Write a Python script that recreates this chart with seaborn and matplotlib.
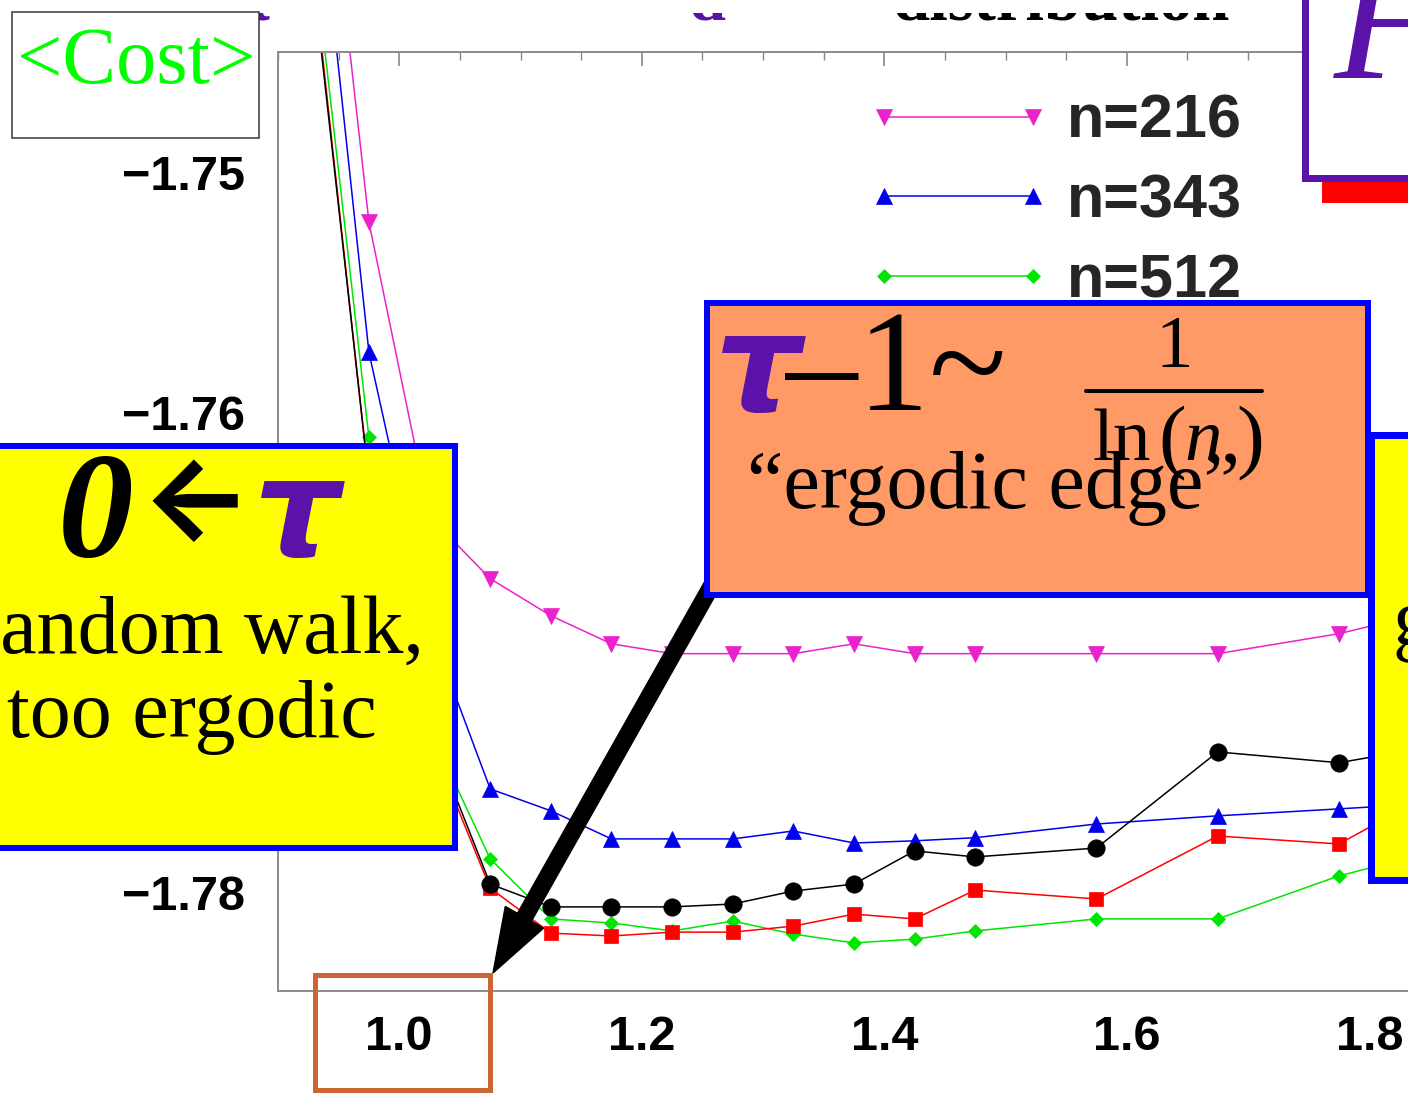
import numpy as np
import pandas as pd
import matplotlib
matplotlib.use("Agg")
import matplotlib.pyplot as plt
import seaborn as sns
from matplotlib.patches import Rectangle, FancyArrow
from matplotlib.lines import Line2D
from matplotlib.ticker import MultipleLocator, FuncFormatter

# ---- data: averaged cost vs. tau for several system sizes ----
tau = [0.925, 0.975, 1.025, 1.075, 1.125, 1.175, 1.225, 1.275, 1.325,
       1.375, 1.425, 1.475, 1.575, 1.675, 1.775, 1.875]
cost_216 = [-1.7295, -1.75208, -1.76433, -1.76692, -1.76846, -1.76963, -1.77004, -1.77004,
            -1.77004, -1.76963, -1.77004, -1.77004, -1.77004, -1.77004, -1.76921, -1.76800]
cost_343 = [-1.7339, -1.75750, -1.76892, -1.77567, -1.77658, -1.77775, -1.77775, -1.77775,
            -1.77742, -1.77792, -1.77783, -1.77770, -1.77713, -1.77679, -1.77650, -1.77620]
cost_512 = [-1.7389, -1.76104, -1.77317, -1.77858, -1.78108, -1.78125, -1.78158, -1.78117,
            -1.78171, -1.78208, -1.78192, -1.78158, -1.78108, -1.78108, -1.77929, -1.77800]
cost_729 = [-1.7397, -1.76290, -1.77360, -1.77980, -1.78167, -1.78179, -1.78163, -1.78163,
            -1.78138, -1.78088, -1.78108, -1.77988, -1.78025, -1.77763, -1.77796, -1.77520]
cost_1000 = [-1.7401, -1.76280, -1.77325, -1.77963, -1.78058, -1.78058, -1.78058, -1.78046,
             -1.77992, -1.77963, -1.77825, -1.77850, -1.77813, -1.77413, -1.77458, -1.77370]
sizes = ["n=216", "n=343", "n=512", "n=729", "n=1000"]

df = pd.DataFrame({"tau": tau, "n=216": cost_216, "n=343": cost_343,
                   "n=512": cost_512, "n=729": cost_729, "n=1000": cost_1000})

sns.set_style("white")
plt.rcParams["font.family"] = ["Liberation Sans", "DejaVu Sans"]
plt.rcParams["font.weight"] = "bold"

W, H = 1408, 1095
fig = plt.figure(figsize=(W / 100, H / 100), dpi=100)
fig.patch.set_facecolor("white")


def fx(x):
    return x / W


def fy(y):
    return 1 - y / H


PX = 0.72  # points per pixel at dpi 100

ax = fig.add_axes([fx(278), fy(991), 1212.5 / W, 939 / H])

styles = {
    "n=216": dict(color="#ea22cc", marker="v", ms=12),
    "n=343": dict(color="#0000ee", marker="^", ms=12),
    "n=512": dict(color="#00e600", marker="D", ms=7.5),
    "n=729": dict(color="#ff0000", marker="s", ms=10),
    "n=1000": dict(color="#000000", marker="o", ms=12.5),
}
for name in sizes:
    st = styles[name]
    sns.lineplot(data=df, x="tau", y=name, ax=ax, color=st["color"], marker=st["marker"],
                 markersize=st["ms"], markeredgecolor=st["color"], markeredgewidth=0.5,
                 linewidth=1.1, label=name)

ax.set_xlim(0.9, 1.9)
ax.set_ylim(-1.78408, -1.745)
ax.set_xlabel("")
ax.set_ylabel("")
ax.xaxis.set_major_locator(MultipleLocator(0.2))
ax.xaxis.set_minor_locator(MultipleLocator(0.05))
ax.yaxis.set_major_locator(MultipleLocator(0.01))
ax.yaxis.set_minor_locator(MultipleLocator(0.002))
ax.xaxis.set_major_formatter(FuncFormatter(lambda v, _: f"{v:.1f}"))
ax.yaxis.set_major_formatter(FuncFormatter(lambda v, _: f"{v:.2f}".replace("-", "\u2212")))
ax.tick_params(which="both", direction="in", top=True, right=False, color="#888888",
               labelcolor="black", labelsize=35)
ax.tick_params(which="major", length=10, width=1.2)
ax.tick_params(which="minor", length=6, width=1.0)
ax.tick_params(axis="x", pad=17)
ax.tick_params(axis="y", pad=24)
for side in ["left", "bottom", "top"]:
    ax.spines[side].set_color("#8a8a8a")
    ax.spines[side].set_linewidth(1.4)
ax.spines["right"].set_visible(False)

leg = ax.legend(loc="upper left", bbox_to_anchor=(fx(866), fy(94)),
                bbox_transform=fig.transFigure, frameon=False, numpoints=2,
                handlelength=3.03, handletextpad=0.26, labelspacing=0.37,
                borderpad=0, borderaxespad=0,
                prop={"family": "Liberation Sans", "weight": "bold", "size": 44})

PURPLE = "#5a12a8"
BLUE = "#0000ff"
SERIF = ["Liberation Serif", "DejaVu Serif"]


def rect(x0, y0, x1, y1, z, **kw):
    r = Rectangle((fx(x0), fy(y1)), (x1 - x0) / W, (y1 - y0) / H,
                  transform=fig.transFigure, clip_on=False, zorder=z, **kw)
    fig.add_artist(r)
    return r


def txt(x, y, s, z, **kw):
    kw.setdefault("va", "baseline")
    kw.setdefault("ha", "left")
    kw.setdefault("fontweight", "normal")
    return fig.text(fx(x), fy(y), s, zorder=z, **kw)


# heading text along the top edge, mostly hidden
txt(273, 19, "\u03c4", 1, color=PURPLE, fontsize=48, family=SERIF, fontweight="bold", ha="right")
txt(725, 19, "d", 1, color=PURPLE, fontsize=48, family=SERIF, fontweight="bold", ha="right")
txt(892, 19, "distribution", 1, color="black", fontsize=48, family=SERIF, fontweight="bold")
rect(230, -5, 1295, 13, 1.5, facecolor="white", edgecolor="none")

# <Cost> tag
rect(12, 12, 259, 138, 5, facecolor="white", edgecolor="#333333", linewidth=1.5 * PX)
txt(136, 83, "<Cost>", 6, color="#00ff00", fontsize=58, family=SERIF, ha="center")

# top-right heading box
rect(1322, 175, 1500, 203, 4, facecolor="#ff0000", edgecolor="none")
rect(1305, -30, 1500, 178, 5, facecolor="white", edgecolor=PURPLE, linewidth=7 * PX)
txt(1334, 78, "F", 6, color=PURPLE, fontsize=125, family=SERIF, style="italic")

# right yellow box
rect(1371, 435, 1520, 880, 5, facecolor="#ffff00", edgecolor=BLUE, linewidth=7 * PX)
txt(1393, 645, "greedy,", 6, color="black", fontsize=59, family=SERIF)

# arrow towards the tau = 1 label
arr = FancyArrow(7.12, (H - 585) / 100, (493 - 712) / 100, -(973 - 585) / 100,
                 width=0.16, head_width=0.44, head_length=0.64, length_includes_head=True,
                 color="black", transform=fig.dpi_scale_trans, zorder=6)
fig.add_artist(arr)

# orange formula box
rect(707, 303, 1368, 595, 7, facecolor="#ff9966", edgecolor=BLUE, linewidth=6 * PX)
txt(715, 410, "\u03c4", 8, color=PURPLE, fontsize=98, family=["DejaVu Sans"],
    fontweight="bold", style="italic")
txt(786, 410, "\u20131~", 8, color="black", fontsize=103, family=SERIF)
txt(1174, 367, "1", 8, color="black", fontsize=54, family=SERIF, ha="center")
fig.add_artist(Line2D([fx(1086), fx(1262)], [fy(391), fy(391)], color="black",
                      linewidth=4 * PX, transform=fig.transFigure, zorder=8))
txt(1092, 460, "ln", 8, color="black", fontsize=54, family=SERIF)
txt(1158, 463, "(", 8, color="black", fontsize=60, family=SERIF)
txt(1184, 460, "n", 8, color="black", fontsize=54, family=SERIF, style="italic")
txt(1236, 463, ")", 8, color="black", fontsize=60, family=SERIF)
txt(747, 508, "\u201cergodic edge\u201d", 8, color="black", fontsize=59, family=SERIF)

# left yellow box
rect(-70, 446, 455, 848, 7, facecolor="#ffff00", edgecolor=BLUE, linewidth=6 * PX)
txt(58, 557, "0", 8, color="black", fontsize=109, family=SERIF, fontweight="bold",
    style="italic")
txt(140, 538, "\u2190", 8, color="black", fontsize=84, family=["Inter", "DejaVu Sans"],
    fontweight="bold")
txt(254, 555, "\u03c4", 8, color=PURPLE, fontsize=98, family=["DejaVu Sans"],
    fontweight="bold", style="italic")
txt(198, 653, "random walk,", 8, color="black", fontsize=59, family=SERIF, ha="center")
txt(192, 737, "too ergodic", 8, color="black", fontsize=59, family=SERIF, ha="center")

# frame around the tau = 1.0 tick label
rect(314.5, 974.5, 489.5, 1089.5, 9, facecolor="none", edgecolor="#cc6633",
     linewidth=5 * PX)

fig.savefig("out.png", dpi=100, facecolor="white")
